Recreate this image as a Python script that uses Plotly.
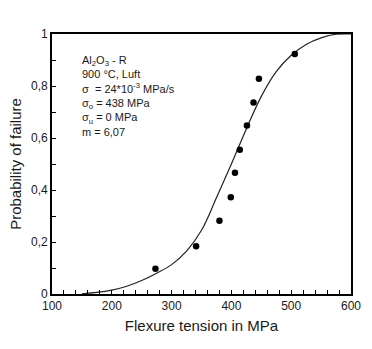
import plotly.graph_objects as go

# Measured flexure strengths (MPa) and their failure probabilities
stress = [273, 341, 380, 399, 406, 414, 426, 437, 446, 506]
prob = [0.097, 0.184, 0.282, 0.372, 0.466, 0.555, 0.648, 0.737, 0.828, 0.923]

# Fitted Weibull distribution curve
fit_stress = [150, 175, 200, 225, 250, 275, 300, 325, 350, 375, 400, 425,
              450, 475, 500, 525, 550, 575, 600]
fit_prob = [0.001, 0.006, 0.015, 0.030, 0.052, 0.080, 0.113, 0.165, 0.245,
            0.370, 0.500, 0.635, 0.760, 0.855, 0.918, 0.960, 0.985, 0.999, 1.0]

x_ticks = [100, 200, 300, 400, 500, 600]
y_ticks = [0, 0.2, 0.4, 0.6, 0.8, 1]
y_tick_text = ["0", "0,2", "0,4", "0,6", "0,8", "1"]

info_lines = [
    "Al<sub>2</sub>O<sub>3</sub> - R",
    "900 °C, Luft",
    "σ  = 24*10<sup>-3</sup> MPa/s",
    "σ<sub>o</sub> = 438 MPa",
    "σ<sub>u</sub> = 0 MPa",
    "m = 6,07",
]

FONT = "Liberation Sans, Arial, sans-serif"
INK = "#1a1a1a"

fig = go.Figure()
fig.add_trace(go.Scatter(
    x=fit_stress, y=fit_prob, mode="lines", line_shape="spline",
    line=dict(color="#222222", width=1.2), showlegend=False, hoverinfo="skip",
))
fig.add_trace(go.Scatter(
    x=stress, y=prob, mode="markers",
    marker=dict(color="black", size=6.5), showlegend=False,
))

fig.add_annotation(
    xref="paper", yref="paper", x=0.092, y=0.93, xanchor="left", yanchor="top",
    text="<br>".join(info_lines), showarrow=False, align="left",
    font=dict(family=FONT, size=11, color=INK),
)

fig.update_layout(
    width=372, height=349,
    margin=dict(l=52, r=21, t=34, b=55),
    paper_bgcolor="white", plot_bgcolor="white",
    font=dict(family=FONT, color=INK),
    xaxis=dict(
        range=[100, 600], tickvals=x_ticks, ticks="inside", ticklen=4,
        tickcolor="black", showline=True, linecolor="black", linewidth=1.6,
        mirror=True, showgrid=False, zeroline=False,
        tickfont=dict(family=FONT, size=12, color=INK),
        minor=dict(ticks="inside", dtick=20, ticklen=4, tickcolor="black"),
        title=dict(text="Flexure tension in MPa", standoff=8,
                   font=dict(family=FONT, size=15, color=INK)),
    ),
    yaxis=dict(
        range=[0, 1], tickvals=y_ticks, ticktext=y_tick_text, ticks="inside",
        ticklen=4, tickcolor="black", showline=True, linecolor="black",
        linewidth=1.6, mirror=True, showgrid=False, zeroline=False,
        tickfont=dict(family=FONT, size=12, color=INK),
        minor=dict(ticks="inside", dtick=0.1, ticklen=4, tickcolor="black"),
        title=dict(text="Probability of failure", standoff=6,
                   font=dict(family=FONT, size=15, color=INK)),
    ),
)

fig.write_html("out.html")
